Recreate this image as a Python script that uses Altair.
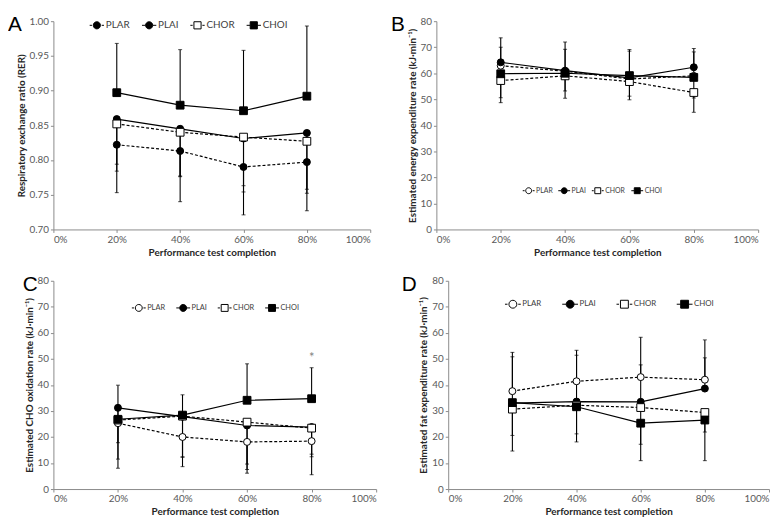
import altair as alt
import pandas as pd

groups = ["PLAR", "PLAI", "CHOR", "CHOI"]
x_pct = [20, 40, 60, 80]

# Panel A - RER
a_vals = {
    "PLAR": [0.822, 0.813, 0.790, 0.797],
    "PLAI": [0.859, 0.845, 0.831, 0.839],
    "CHOR": [0.852, 0.840, 0.833, 0.827],
    "CHOI": [0.897, 0.879, 0.871, 0.892],
}
a_errs = {
    "PLAR": [0.753, 0.740, 0.721, 0.727],
    "PLAI": [0.794, 0.777, 0.763, 0.758],
    "CHOR": [0.784, 0.776, 0.754, 0.752],
    "CHOI": [0.968, 0.959, 0.958, 0.993],
}
# Panel B - energy expenditure
b_vals = {
    "PLAR": [62.9, 60.8, 57.8, 59.0],
    "PLAI": [64.2, 61.0, 58.2, 62.3],
    "CHOR": [57.2, 59.0, 56.8, 52.6],
    "CHOI": [59.8, 60.0, 59.1, 58.4],
}
b_errs = {
    "PLAR": [70.0, 69.2, 68.5, 68.2],
    "PLAI": [73.6, 72.0, 69.1, 69.5],
    "CHOR": [48.7, 53.2, 51.2, 45.0],
    "CHOI": [50.6, 50.4, 49.8, 50.5],
}
# Panel C - CHO oxidation
c_vals = {
    "PLAR": [25.3, 20.0, 18.1, 18.4],
    "PLAI": [31.2, 27.8, 24.4, 23.8],
    "CHOR": [26.5, 28.0, 25.7, 23.4],
    "CHOI": [26.8, 28.4, 34.1, 34.7],
}
c_errs = {
    "PLAR": [8.0, 8.6, 6.1, 5.5],
    "PLAI": [17.8, 12.4, 9.6, 13.4],
    "CHOR": [11.5, 12.2, 7.5, 12.4],
    "CHOI": [39.9, 36.2, 48.1, 46.6],
}
c_star_x = [80]
c_star_y = [50.3]
# Panel D - fat expenditure
d_vals = {
    "PLAR": [37.6, 41.4, 43.0, 42.0],
    "PLAI": [33.0, 33.6, 33.5, 38.6],
    "CHOR": [30.7, 32.2, 31.3, 29.4],
    "CHOI": [33.2, 31.6, 25.3, 26.5],
}
d_errs = {
    "PLAR": [52.5, 53.3, 58.3, 57.3],
    "PLAI": [50.8, 51.4, 47.7, 50.4],
    "CHOR": [20.6, 21.2, 17.2, 21.9],
    "CHOI": [14.6, 18.1, 10.9, 10.9],
}

x_ticks = [0, 20, 40, 60, 80, 100]
a_ticks = [0.70, 0.75, 0.80, 0.85, 0.90, 0.95, 1.00]
kj_ticks = [0, 10, 20, 30, 40, 50, 60, 70, 80]

FONT = "Lato"
AX_GRAY = "#8a8a8a"
LBL = "#595959"

dashed = {"PLAR": True, "PLAI": False, "CHOR": True, "CHOI": False}
shapes = {"PLAR": "circle", "PLAI": "circle", "CHOR": "square", "CHOI": "square"}

CIRC = "M0.5 0A0.5 0.5 0 1 1 -0.5 0A0.5 0.5 0 1 1 0.5 0Z"
SQR = "M-0.5 -0.5H0.5V0.5H-0.5Z"
STUB_SOLID = "M-1 0H-0.5M0.5 0H1"
STUB_DASH = "M-1 0H-0.68M0.68 0H1"
legend_paths = [
    STUB_DASH + CIRC,
    STUB_SOLID + CIRC,
    STUB_DASH + SQR,
    STUB_SOLID + SQR,
]


def make_panel(vals, errs, letter, ytitle, ydomain, yticks, yfmt, fills,
               w, h, leg, letter_dx, extra=None):
    xscale = alt.Scale(domain=[0, 100], padding=0, nice=False)
    yscale = alt.Scale(domain=ydomain, padding=0, nice=False)
    xenc = alt.X("x:Q", scale=xscale,
                 axis=alt.Axis(values=x_ticks, labelExpr="datum.value + '%'",
                               title="Performance test completion", grid=False))
    yaxis = alt.Axis(values=yticks, format=yfmt, title=ytitle, grid=False, labelOverlap=False)
    yenc = alt.Y("v:Q", scale=yscale, axis=yaxis)
    yenc_e = alt.Y("e:Q", scale=yscale, axis=yaxis)
    layers = []
    frames = {}
    for g in groups:
        frames[g] = pd.DataFrame({"series": g, "x": x_pct, "v": vals[g], "e": errs[g]})
    # error bars
    for g in groups:
        df = frames[g]
        layers.append(alt.Chart(df).mark_rule(color="black", strokeWidth=1.1)
                      .encode(x=xenc, y=yenc, y2="e:Q"))
        layers.append(alt.Chart(df).mark_tick(orient="horizontal", size=4, thickness=1,
                                              color="black")
                      .encode(x=xenc, y=yenc_e))
    # lines
    for g in groups:
        df = frames[g]
        kw = dict(color="black", strokeWidth=1.2)
        if dashed[g]:
            kw["strokeDash"] = [3, 2]
        layers.append(alt.Chart(df).mark_line(**kw).encode(x=xenc, y=yenc))
    # markers
    for g, fc in zip(groups, fills):
        df = frames[g]
        size = 50 if shapes[g] == "circle" else 62
        layers.append(alt.Chart(df).mark_point(shape=shapes[g], filled=True, color=fc,
                                               stroke="black", strokeWidth=1, size=size,
                                               opacity=1)
                      .encode(x=xenc, y=yenc))
    if extra is not None:
        layers.append(extra(xenc, yaxis, yscale))
    # legend
    lg = alt.Legend(orient="none", legendX=leg["x"], legendY=leg["y"], direction="horizontal",
                    columns=4, title=None, labelFont=FONT, labelFontSize=leg["fs"],
                    labelColor="#404040", symbolSize=leg["ss"], symbolStrokeWidth=1,
                    symbolStrokeColor="black", columnPadding=leg["cp"], labelOffset=1,
                    padding=0, symbolOpacity=1)
    all_df = pd.concat(list(frames.values()))
    layers.append(alt.Chart(all_df).transform_filter("false")
                  .mark_point(strokeWidth=1, opacity=1)
                  .encode(x=xenc, y=yenc,
                          shape=alt.Shape("series:N", scale=alt.Scale(domain=groups,
                                                                    range=legend_paths),
                                          legend=lg),
                          fill=alt.Fill("series:N", scale=alt.Scale(domain=groups, range=fills),
                                        legend=lg),
                          stroke=alt.Stroke("series:N",
                                            scale=alt.Scale(domain=groups, range=["black"] * 4),
                                            legend=lg)))
    return alt.layer(*layers).properties(
        width=w, height=h,
        title=alt.TitleParams(text=letter, anchor="start", frame="group", fontSize=21,
                              fontWeight="normal", font="Liberation Sans", color="black",
                              dx=letter_dx, dy=19, offset=0),
    )


def star(xenc, yaxis, yscale):
    df = pd.DataFrame({"x": c_star_x, "v": c_star_y})
    return alt.Chart(df).mark_text(text="*", fontSize=13, color="#808080", font=FONT,
                                   baseline="middle").encode(
        x=xenc, y=alt.Y("v:Q", scale=yscale, axis=yaxis))


fills_a = ["black", "black", "white", "black"]
fills_o = ["white", "black", "white", "black"]
KJ = "(kJ·min⁻¹)"

pa = make_panel(a_vals, a_errs, "A", "Respiratory exchange ratio (RER)", [0.70, 1.00], a_ticks,
                ".2f", fills_a, 321, 211, dict(x=36, y=-4, fs=10, ss=210, cp=9), -46)
pb = make_panel(b_vals, b_errs, "B", "Estimated energy expenditure rate " + KJ, [0, 80], kj_ticks,
                "d", fills_o, 326, 211, dict(x=87, y=165, fs=7, ss=144, cp=3), -46)
pc = make_panel(c_vals, c_errs, "C", "Estimated CHO oxidation rate " + KJ, [0, 80], kj_ticks,
                "d", fills_o, 327, 211, dict(x=79, y=20, fs=7.5, ss=196, cp=8), -31, star)
pd_ = make_panel(d_vals, d_errs, "D", "Estimated fat expenditure rate " + KJ, [0, 80], kj_ticks,
                 "d", fills_o, 325, 211, dict(x=57, y=15, fs=8, ss=256, cp=18), -47)

IND = dict(fill="independent", shape="independent", stroke="independent")
row1 = alt.hconcat(pa, pb, spacing=20).resolve_scale(**IND).resolve_legend(**IND)
row2 = alt.hconcat(pc, pd_, spacing=25).resolve_scale(**IND).resolve_legend(**IND)

chart = alt.concat(row1, row2, columns=1, spacing=17, align="none").resolve_scale(
    **IND).resolve_legend(**IND).properties(
    padding={"top": 3, "left": 0, "right": 0, "bottom": 0}).configure_view(
    stroke=None).configure_axis(
    labelFont=FONT, labelFontSize=10, labelColor=LBL, titleFont=FONT, titleFontSize=10,
    titleFontWeight="bold", titleColor="#262626", domainColor=AX_GRAY, tickColor=AX_GRAY,
    tickSize=3, labelPadding=2, titlePadding=3,
)

chart.save("out.html", embed_options={"renderer": "svg", "actions": False})
